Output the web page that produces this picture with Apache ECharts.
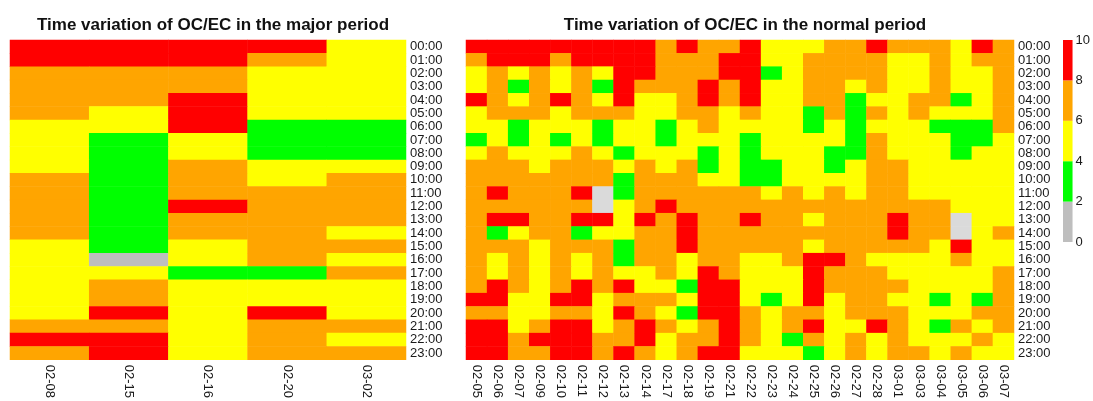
<!DOCTYPE html>
<html>
<head>
<meta charset="utf-8">
<script src="https://cdn.jsdelivr.net/npm/echarts@6/dist/echarts.min.js"></script>
<style>
html,body{margin:0;padding:0;background:#fff;}
#chart{width:1093px;height:401px;}
</style>
</head>
<body>
<div id="chart"></div>
<script>
// ---- data ----
const hours = ['00:00','01:00','02:00','03:00','04:00','05:00','06:00','07:00','08:00','09:00','10:00','11:00',
  '12:00','13:00','14:00','15:00','16:00','17:00','18:00','19:00','20:00','21:00','22:00','23:00'];
const majorDays = ['02-08','02-15','02-16','02-20','03-02'];
const normalDays = ['02-05','02-06','02-07','02-09','02-10','02-11','02-12','02-13','02-14','02-17','02-18','02-19','02-21',
  '02-22','02-23','02-24','02-25','02-26','02-27','02-28','03-01','03-03','03-04','03-05','03-06','03-07'];

// OC/EC values, one row per hour (00:00 .. 23:00), one column per day
const majorValues = [
  [9,9,9,9,5],[9,9,9,7,5],[7,7,7,5,5],[7,7,7,5,5],[7,7,9,5,5],[7,5,9,5,5],
  [5,5,9,3,3],[5,3,5,3,3],[5,3,5,3,3],[5,3,7,5,5],[7,3,7,5,7],[7,3,7,7,7],
  [7,3,9,7,7],[7,3,7,7,7],[7,3,7,7,5],[5,3,5,7,7],[5,1,5,7,5],[5,5,3,3,7],
  [5,7,5,5,5],[5,7,5,5,5],[5,9,5,9,5],[7,7,5,7,7],[9,9,5,7,5],[7,9,5,7,7]
];
// null = missing value
const normalValues = [
  [9,9,9,9,9,9,9,9,9,7,9,7,7,9,5,5,5,7,7,9,7,7,7,5,9,7],
  [7,9,9,9,7,9,9,9,9,7,7,7,9,9,5,5,7,7,7,7,5,5,7,5,7,7],
  [5,7,5,7,5,7,5,9,9,7,7,7,9,9,3,5,7,7,7,7,5,5,7,5,5,7],
  [5,7,3,7,5,7,3,9,7,7,7,9,7,9,5,5,7,7,5,7,5,5,7,5,5,7],
  [9,7,5,7,9,7,5,9,5,5,7,9,7,9,5,5,7,7,3,5,5,7,7,3,5,7],
  [5,7,7,7,5,7,7,7,5,5,7,7,5,7,5,5,3,7,3,7,5,7,5,5,5,7],
  [5,5,3,5,5,5,3,5,5,3,5,7,5,5,5,5,3,5,3,5,5,5,3,3,3,7],
  [3,5,3,5,3,5,3,5,5,3,5,5,5,3,5,5,5,5,3,7,5,5,5,3,3,5],
  [5,7,5,5,5,7,5,3,5,5,5,3,5,3,5,5,5,3,3,7,5,5,5,3,5,5],
  [7,7,7,5,7,7,7,5,7,5,7,3,5,3,3,5,5,3,5,7,7,5,5,5,5,5],
  [7,7,7,7,7,7,7,3,7,7,7,5,5,3,3,5,5,5,5,7,7,5,5,5,5,5],
  [7,9,7,7,7,9,null,3,7,7,7,7,7,7,5,7,5,7,5,7,7,5,5,5,5,5],
  [7,7,7,7,7,7,null,5,7,9,7,7,7,7,7,7,7,7,7,7,7,7,7,5,5,5],
  [7,9,9,7,7,9,9,5,9,7,9,7,7,9,7,7,5,7,7,7,9,7,7,null,5,5],
  [7,3,5,7,7,3,5,5,7,7,9,7,7,7,7,7,7,7,7,7,9,7,7,null,5,7],
  [7,7,7,5,7,7,7,3,7,7,9,7,7,7,7,7,5,7,7,7,7,7,5,9,5,5],
  [7,5,7,5,7,5,7,3,7,7,5,7,7,5,5,7,9,9,7,5,5,5,5,7,5,5],
  [7,5,7,5,7,5,7,5,5,7,5,9,7,5,5,5,9,7,7,7,5,5,5,5,5,7],
  [7,9,7,5,7,9,7,9,5,5,3,9,9,5,5,5,9,7,7,7,7,5,5,5,5,7],
  [9,9,5,5,9,9,5,7,7,7,5,9,9,5,3,5,9,5,7,7,5,5,3,5,3,7],
  [7,7,5,5,7,7,5,9,7,5,3,9,9,7,5,7,7,5,7,7,7,5,5,5,7,7],
  [9,9,5,7,9,9,5,7,9,7,5,7,9,7,5,7,9,5,5,9,7,5,3,7,5,7],
  [9,9,7,9,9,9,7,7,9,5,7,7,9,7,5,3,7,5,7,5,7,5,5,5,7,5],
  [9,9,7,7,9,9,7,9,7,5,7,9,9,5,5,5,3,5,7,5,7,7,5,7,5,5]
];
const legendBreaks = [0, 2, 4, 6, 8, 10];
const classColors = ['#BEBEBE', '#00FF00', '#FFFF00', '#FFA500', '#FF0000'];
const missingColor = '#DADADA';
const titles = ['Time variation of OC/EC in the major period', 'Time variation of OC/EC in the normal period'];

// ---- build ----
function toCells(matrix) {
  const out = [];
  matrix.forEach((row, r) => row.forEach((v, c) => out.push([c, r, v === null ? -1 : v])));
  return out;
}
const pieces = [{ lt: 0, color: missingColor }];
for (let i = 0; i < classColors.length; i++) {
  pieces.push({ gte: legendBreaks[i], lt: legendBreaks[i + 1], color: classColors[i] });
}
pieces[pieces.length - 1].lte = legendBreaks[legendBreaks.length - 1];
delete pieces[pieces.length - 1].lt;

const FONT = 'Liberation Sans, Arial, Helvetica, sans-serif';
const labelColor = '#1a1a1a';

function catX(idx, data) {
  return {
    type: 'category', gridIndex: idx, data: data, position: 'bottom',
    axisLine: { show: false }, axisTick: { show: false }, splitLine: { show: false },
    axisLabel: { rotate: -90, interval: 0, fontSize: 13, color: labelColor, fontFamily: FONT, margin: 5 }
  };
}
function catY(idx) {
  return {
    type: 'category', gridIndex: idx, data: hours, inverse: true, position: 'right',
    axisLine: { show: false }, axisTick: { show: false }, splitLine: { show: false },
    axisLabel: { interval: 0, fontSize: 13, color: labelColor, fontFamily: FONT, margin: 4, lineHeight: 13 }
  };
}

const legendSeries = classColors.map((col, i) => ({
  type: 'bar', xAxisIndex: 2, yAxisIndex: 2, stack: 'legend', barWidth: '100%',
  data: [legendBreaks[i + 1] - legendBreaks[i]], itemStyle: { color: col }, silent: true
}));

const chart = echarts.init(document.getElementById('chart'), null, { renderer: 'canvas' });
chart.setOption({
  animation: false,
  backgroundColor: '#ffffff',
  title: [
    { text: titles[0], left: 208, top: 12, textAlign: 'center',
      textStyle: { fontSize: 17, fontWeight: 'bold', color: '#111', fontFamily: FONT } },
    { text: titles[1], left: 740, top: 12, textAlign: 'center',
      textStyle: { fontSize: 17, fontWeight: 'bold', color: '#111', fontFamily: FONT } }
  ],
  grid: [
    { left: 10, top: 40, width: 396, height: 323 },
    { left: 466, top: 40, width: 548, height: 323 },
    { left: 1063, top: 40, width: 14, height: 202 }
  ],
  xAxis: [
    catX(0, majorDays),
    catX(1, normalDays),
    { type: 'category', gridIndex: 2, data: [''], show: false }
  ],
  yAxis: [
    catY(0),
    catY(1),
    { type: 'value', gridIndex: 2, min: 0, max: 10, interval: 2, position: 'right',
      axisLine: { show: false }, axisTick: { show: false }, splitLine: { show: false },
      axisLabel: { fontSize: 13, color: labelColor, fontFamily: FONT, margin: 3 } }
  ],
  visualMap: {
    type: 'piecewise', show: false, seriesIndex: [0, 1], dimension: 2, pieces: pieces
  },
  series: [
    { type: 'heatmap', xAxisIndex: 0, yAxisIndex: 0, data: toCells(majorValues) },
    { type: 'heatmap', xAxisIndex: 1, yAxisIndex: 1, data: toCells(normalValues) }
  ].concat(legendSeries)
});
</script>
</body>
</html>
